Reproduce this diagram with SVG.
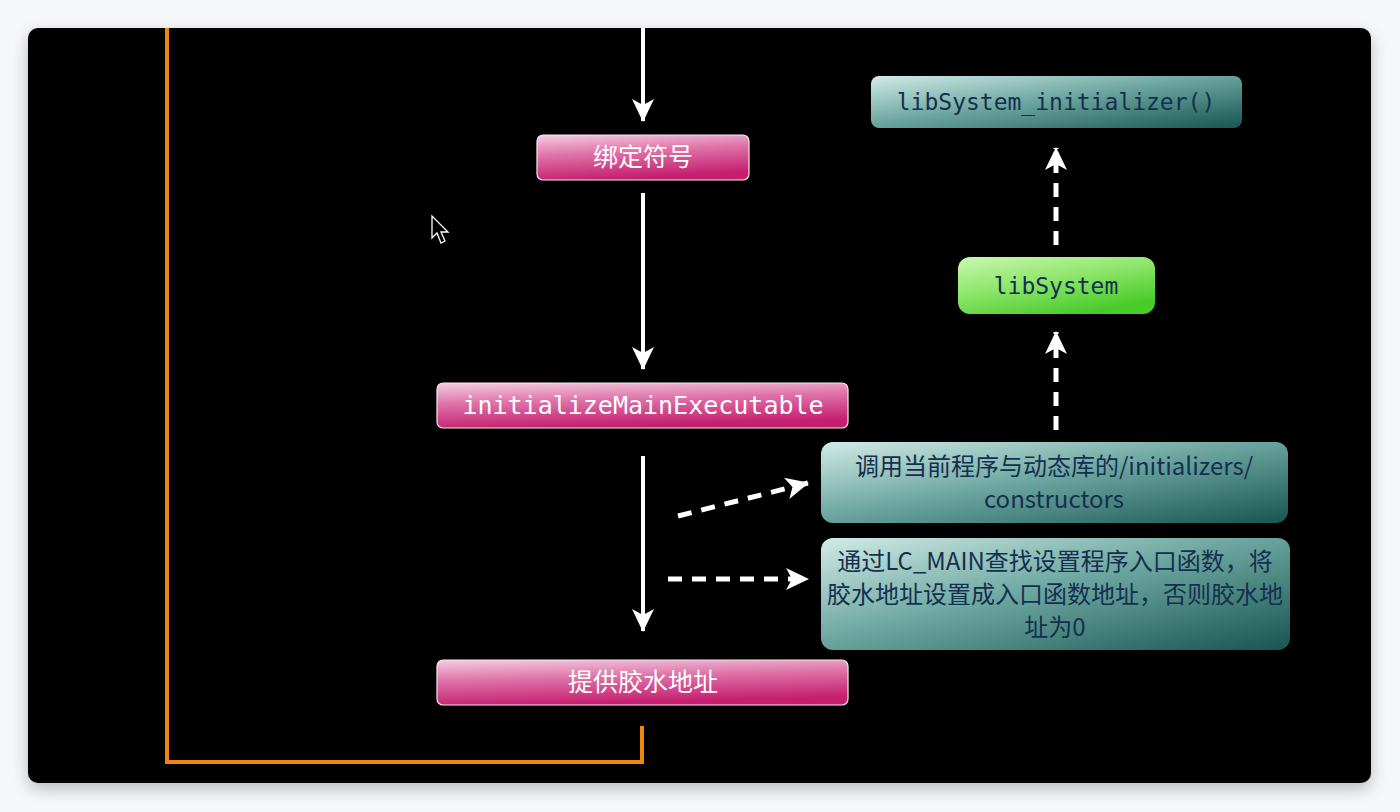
<svg xmlns="http://www.w3.org/2000/svg" width="1400" height="812" viewBox="0 0 1400 812">
<defs>
<linearGradient id="pink" x1="0" y1="0" x2="0.25" y2="1">
<stop offset="0" stop-color="#f5cde1"/>
<stop offset="0.45" stop-color="#de72a8"/>
<stop offset="1" stop-color="#c51f6f"/>
</linearGradient>
<linearGradient id="teal" x1="0" y1="0" x2="1" y2="1">
<stop offset="0" stop-color="#d2ebe6"/>
<stop offset="0.45" stop-color="#6fa8a2"/>
<stop offset="1" stop-color="#175550"/>
</linearGradient>
<linearGradient id="green" x1="0" y1="0" x2="0.6" y2="1">
<stop offset="0" stop-color="#c9f8b0"/>
<stop offset="0.5" stop-color="#8ee66a"/>
<stop offset="1" stop-color="#48cc2a"/>
</linearGradient>
<filter id="shadow" x="-5%" y="-5%" width="110%" height="115%">
<feGaussianBlur in="SourceAlpha" stdDeviation="8"/>
<feOffset dy="6"/>
<feComponentTransfer><feFuncA type="linear" slope="0.25"/></feComponentTransfer>
<feMerge><feMergeNode/><feMergeNode in="SourceGraphic"/></feMerge>
</filter>
<marker id="head" markerUnits="userSpaceOnUse" markerWidth="26" markerHeight="26" refX="22" refY="12" orient="auto">
<path d="M0,1 L23,12 L0,23 L6,12 Z" fill="#ffffff"/>
</marker>
<style>
.pink{fill:url(#pink);stroke:#f7e6ef;stroke-width:1.2}
.teal{fill:url(#teal);stroke:none}
.green{fill:url(#green);stroke:none}
.wt{fill:#ffffff;font-family:"Noto Sans CJK SC",sans-serif;font-size:25px;text-anchor:middle}
.mono{font-family:"DejaVu Sans Mono","Liberation Mono",monospace;text-anchor:middle}
.dk{fill:#14304f;font-family:"Noto Sans CJK SC",sans-serif;font-size:24px;text-anchor:middle}
.solid{stroke:#ffffff;stroke-width:4;fill:none;marker-end:url(#head)}
.dash{stroke:#ffffff;stroke-width:5;fill:none;stroke-dasharray:14 10;marker-end:url(#head)}
</style>
</defs>
<rect width="1400" height="812" fill="#f6f7f9"/>
<rect x="28" y="28" width="1343" height="755" rx="10" fill="#000000" filter="url(#shadow)"/>
<g id="loop">
<polyline points="167,28 167,762 642,762 642,726" fill="none" stroke="#f0850f" stroke-width="4"/>
</g>
<g id="connectors">
<line class="solid" x1="643" y1="28" x2="643" y2="121"/>
<line class="solid" x1="643" y1="193" x2="643" y2="369"/>
<line class="solid" x1="643" y1="456" x2="643" y2="631"/>
<line class="dash" x1="1056" y1="245" x2="1056" y2="148"/>
<line class="dash" x1="1056" y1="430" x2="1056" y2="332"/>
<line class="dash" x1="678" y1="516" x2="808" y2="483"/>
<line class="dash" x1="668" y1="579" x2="808" y2="579"/>
</g>
<g id="bind">
<rect class="pink" x="537" y="135" width="212" height="45" rx="6"/>
<text class="wt" x="643" y="166">绑定符号</text>
</g>
<g id="initMain">
<rect class="pink" x="437" y="383" width="411" height="45" rx="6"/>
<text class="wt mono" x="643" y="414" font-size="25.5">initializeMainExecutable</text>
</g>
<g id="glue">
<rect class="pink" x="437" y="660" width="411" height="45" rx="6"/>
<text class="wt" x="643" y="691">提供胶水地址</text>
</g>
<g id="libInit">
<rect class="teal" x="871" y="76" width="371" height="52" rx="8"/>
<text class="mono" x="1056" y="110" fill="#14304f" font-size="23">libSystem_initializer()</text>
</g>
<g id="libSystem">
<rect class="green" x="958" y="257" width="197" height="57" rx="12"/>
<text class="mono" x="1056" y="294" fill="#14304f" font-size="23">libSystem</text>
</g>
<g id="initializers">
<rect class="teal" x="821" y="442" width="467" height="81" rx="12"/>
<text class="dk" x="1054" y="475">调用当前程序与动态库的/initializers/</text>
<text class="dk" x="1054" y="508">constructors</text>
</g>
<g id="lcmain">
<rect class="teal" x="821" y="538" width="469" height="112" rx="12"/>
<text class="dk" x="1055" y="570">通过LC_MAIN查找设置程序入口函数，将</text>
<text class="dk" x="1055" y="603">胶水地址设置成入口函数地址，否则胶水地</text>
<text class="dk" x="1055" y="636">址为0</text>
</g>
<path d="M432,216 L432,238 L437,233 L441,243 L445,241 L441,232 L448,232 Z" fill="#000" stroke="#fff" stroke-width="1.3"/>
</svg>
